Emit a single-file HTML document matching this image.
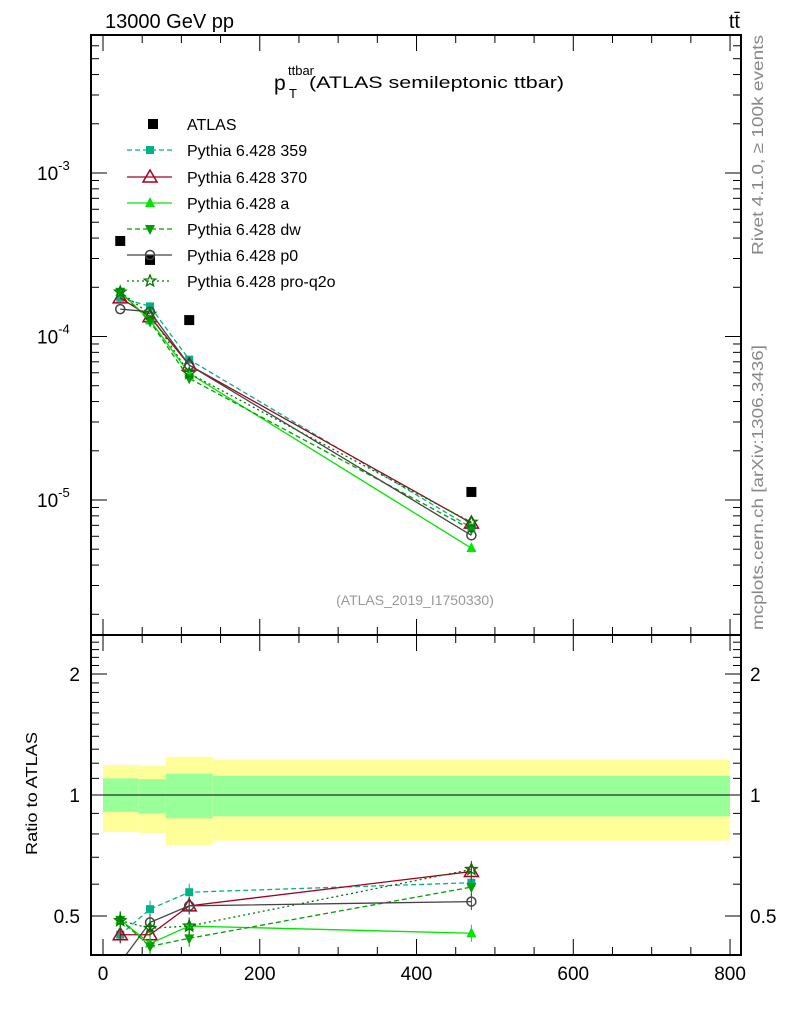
<!DOCTYPE html>
<html><head><meta charset="utf-8"><style>
body{margin:0;background:#fff}
svg text{font-family:"Liberation Sans",Arial,sans-serif}
</style></head><body>
<svg id="c" width="786" height="1024" xmlns="http://www.w3.org/2000/svg">
<text x="105" y="28" font-size="20">13000 GeV pp</text>
<text x="740" y="28" font-size="20" text-anchor="end">tt̄</text>
<g>
<text x="274" y="90" font-size="21">p</text>
<text x="288" y="75" font-size="13">ttbar</text>
<text x="289" y="98" font-size="13">T</text>
<text x="309" y="88" font-size="17" textLength="255" lengthAdjust="spacingAndGlyphs">(ATLAS semileptonic ttbar)</text>
</g>
<text x="415" y="605" font-size="14" fill="#999" text-anchor="middle">(ATLAS_2019_I1750330)</text>
<text transform="translate(763,255) rotate(-90)" font-size="16" fill="#888" textLength="220" lengthAdjust="spacingAndGlyphs">Rivet 4.1.0, ≥ 100k events</text>
<text transform="translate(763,630) rotate(-90)" font-size="16" fill="#888" textLength="285" lengthAdjust="spacingAndGlyphs">mcplots.cern.ch [arXiv:1306.3436]</text>
<text transform="translate(37,855) rotate(-90)" font-size="16" textLength="123" lengthAdjust="spacingAndGlyphs">Ratio to ATLAS</text>
<g id="bands"></g><g id="main"></g><g id="ratio"></g><g id="axes"></g><g id="legend"></g>
</svg>
<script>
const xCenters=[22,60,110,470];
const binEdges=[0,45,80,140,800];
const atlas=[3.84e-4,2.94e-4,1.26e-4,1.12e-5];
const seriesNames=["Pythia 6.428 359","Pythia 6.428 370","Pythia 6.428 a","Pythia 6.428 dw","Pythia 6.428 p0","Pythia 6.428 pro-q2o"];
const r359=[0.449,0.52,0.573,0.605];
const r370=[0.449,0.449,0.53,0.645];
const rA=[0.489,0.427,0.472,0.453];
const rDw=[0.489,0.42,0.44,0.59];
const rP0=[0.383,0.482,0.53,0.543];
const rQ2o=[0.487,0.466,0.472,0.653];
const yellowHi=[1.188,1.183,1.245,1.225];
const yellowLo=[0.809,0.805,0.751,0.77];
const greenHi=[1.1,1.095,1.13,1.115];
const greenLo=[0.908,0.9,0.875,0.885];
const xTicks=[0,200,400,600,800];

const NS="http://www.w3.org/2000/svg";
const X=v=>103+v*0.7838;
const YM=v=>173-(Math.log10(v)+3)*163.5;
const YR=v=>795-Math.log2(v)*121;
function mk(p,t,a){const e=document.createElementNS(NS,t);for(const k in a)e.setAttribute(k,a[k]);document.getElementById(p).appendChild(e);return e;}
for(let i=0;i<4;i++){
 const x1=X(binEdges[i]),x2=X(binEdges[i+1]);
 const y=mk('bands','rect',{x:x1,y:YR(yellowHi[i]),width:x2-x1,height:YR(yellowLo[i])-YR(yellowHi[i]),fill:'#ffff99'});
 
 
 const g=mk('bands','rect',{x:x1,y:YR(greenHi[i]),width:x2-x1,height:YR(greenLo[i])-YR(greenHi[i]),fill:'#99ff99'});
 
 
}
const ln=mk('bands','line',{x1:X(binEdges[0]),x2:X(800),y1:YR(1),y2:YR(1),stroke:'#000'});


const styles=[
 {r:r359,c:'#00b386',d:'5,3',m:'sq'},
 {r:r370,c:'#a50021',d:'',m:'tri'},
 {r:rA,c:'#00e600',d:'',m:'trif'},
 {r:rDw,c:'#00a000',d:'5,3',m:'tdn'},
 {r:rP0,c:'#444',d:'',m:'circ'},
 {r:rQ2o,c:'#007700',d:'2,3',m:'star'}];
function marker(p,m,x,y,c){
 let e;
 if(m=='sq')e=mk(p,'rect',{x:x-4,y:y-4,width:8,height:8,fill:c});
 else if(m=='tri')e=mk(p,'polygon',{points:`${x},${y-7} ${x-7},${y+5} ${x+7},${y+5}`,fill:'none',stroke:c,'stroke-width':1.5});
 else if(m=='trif')e=mk(p,'polygon',{points:`${x},${y-6} ${x-5},${y+4} ${x+5},${y+4}`,fill:c});
 else if(m=='tdn')e=mk(p,'polygon',{points:`${x},${y+6} ${x-5},${y-4} ${x+5},${y-4}`,fill:c});
 else if(m=='circ')e=mk(p,'circle',{cx:x,cy:y,r:4.5,fill:'none',stroke:c,'stroke-width':1.5});
 else {let pts=[];for(let k=0;k<10;k++){const a=-Math.PI/2+k*Math.PI/5,rr=k%2?2.6:6;pts.push((x+rr*Math.cos(a))+','+(y+rr*Math.sin(a)));}
  e=mk(p,'polygon',{points:pts.join(' '),fill:'none',stroke:c,'stroke-width':1.3});}
 return e;
}
const defs=mk('ratio','clipPath',{id:'rc'});
const cr=document.createElementNS(NS,'rect');cr.setAttribute('x',91);cr.setAttribute('y',635);cr.setAttribute('width',650);cr.setAttribute('height',320);defs.appendChild(cr);
styles.forEach((s,si)=>{
 const mp=xCenters.map((x,i)=>X(x)+','+YM(atlas[i]*s.r[i])).join(' ');
 const l=mk('main','polyline',{points:mp,fill:'none',stroke:s.c,'stroke-width':1.3,'stroke-dasharray':s.d});
 
 
 xCenters.forEach((x,i)=>{const e=marker('main',s.m,X(x),YM(atlas[i]*s.r[i]),s.c);
  
  });
 const rp=xCenters.map((x,i)=>X(x)+','+YR(s.r[i])).join(' ');
 const g=mk('ratio','g',{'clip-path':'url(#rc)'});g.id='rg'+si;
 const l2=mk('rg'+si,'polyline',{points:rp,fill:'none',stroke:s.c,'stroke-width':1.3,'stroke-dasharray':s.d});
 
 
 xCenters.forEach((x,i)=>{if(s.r[i]<0.4)return;
  mk('rg'+si,'line',{x1:X(x),x2:X(x),y1:YR(s.r[i]*1.05),y2:YR(s.r[i]/1.05),stroke:s.c});
  const e=marker('rg'+si,s.m,X(x),YR(s.r[i]),s.c);
  
  });
});
xCenters.forEach((x,i)=>{const e=mk('main','rect',{x:X(x)-5,y:YM(atlas[i])-5,width:10,height:10,fill:'#000'});
 
 });
mk('axes','rect',{x:91,y:35,width:650,height:600,fill:'none',stroke:'#000','stroke-width':2});
mk('axes','rect',{x:91,y:635,width:650,height:320,fill:'none',stroke:'#000','stroke-width':2});
for(let d=-6;d<=-3;d++)for(let m=1;m<10;m++){const y=YM(m*Math.pow(10,d));if(y<35||y>635)continue;const L=m==1?16:8;
 mk('axes','line',{x1:91,x2:91+L,y1:y,y2:y,stroke:'#000'});mk('axes','line',{x1:741,x2:741-L,y1:y,y2:y,stroke:'#000'});
 if(m==1){const t=mk('axes','text',{x:37,y:y+7,'font-size':19});t.innerHTML=`10<tspan font-size="13" dy="-10">${d}</tspan>`;}}
for(let k=4;k<=25;k++){const v=k/10;const y=YR(v);const maj=(k==5||k==10||k==20);const L=maj?16:8;
 mk('axes','line',{x1:91,x2:91+L,y1:y,y2:y,stroke:'#000'});mk('axes','line',{x1:741,x2:741-L,y1:y,y2:y,stroke:'#000'});
 if(maj){const t=mk('axes','text',{x:80,y:y+7,'font-size':19,'text-anchor':'end'});t.textContent=v;
 const t2=mk('axes','text',{x:750,y:y+7,'font-size':19});t2.textContent=v;}}
for(let v=0;v<=800;v+=50){const x=X(v),L=v%200==0?16:8;
 mk('axes','line',{x1:x,x2:x,y1:955,y2:955-L,stroke:'#000'});mk('axes','line',{x1:x,x2:x,y1:635,y2:635-L,stroke:'#000'});mk('axes','line',{x1:x,x2:x,y1:635,y2:635+L,stroke:'#000'});mk('axes','line',{x1:x,x2:x,y1:35,y2:35+L,stroke:'#000'});}
xTicks.forEach(v=>{const t=mk('axes','text',{x:X(v),y:980,'font-size':19,'text-anchor':'middle'});t.textContent=v;
 
 });
const lgY=[124,150,177,203,229,255,281];
let t=mk('legend','rect',{x:148,y:lgY[0]-5,width:10,height:10,fill:'#000'});
t=mk('legend','text',{x:187,y:lgY[0]+6,'font-size':16});t.textContent='ATLAS';
styles.forEach((s,i)=>{const y=lgY[i+1];
 mk('legend','line',{x1:127,x2:172,y1:y,y2:y,stroke:s.c,'stroke-width':1.3,'stroke-dasharray':s.d});
 marker('legend',s.m,150,y,s.c);
 const tx=mk('legend','text',{x:187,y:y+6,'font-size':16});tx.textContent=seriesNames[i];
 
 });
</script>
</body></html>
